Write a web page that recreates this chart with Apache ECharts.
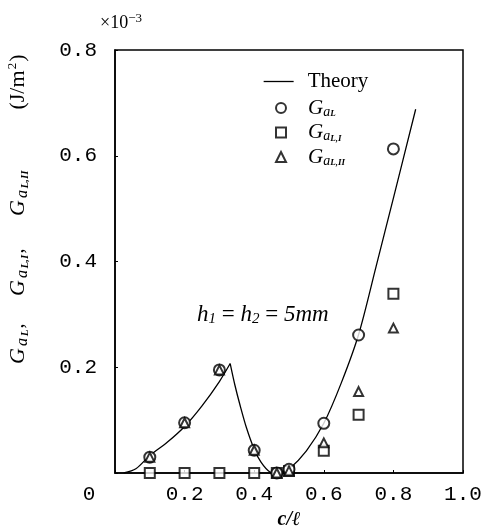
<!DOCTYPE html>
<html><head><meta charset="utf-8">
<script src="https://cdn.jsdelivr.net/npm/echarts@6/dist/echarts.min.js"></script>
<style>html,body{margin:0;padding:0;background:#fff}#c{width:483px;height:526px}</style>
</head><body><div id="c"></div>
<script>
// ---- data ----
const xTicks = [0, 0.2, 0.4, 0.6, 0.8, 1.0];
const yTicks = [0.2, 0.4, 0.6, 0.8];
const expX   = [0.1, 0.2, 0.3, 0.4, 0.465, 0.5, 0.6, 0.7, 0.8];
const gaL    = [0.030, 0.095, 0.195, 0.043, 0, 0.007, 0.094, 0.261, 0.613];
const gaLI   = [0, 0, 0, 0, 0, 0.004, 0.042, 0.110, 0.339];
const gaLII  = [0.030, 0.095, 0.195, 0.043, 0, 0.004, 0.057, 0.154, 0.274];
const theoryRiseX = [0.025, 0.06, 0.1, 0.15, 0.2, 0.25, 0.3, 0.331];
const theoryRiseY = [0, 0.008, 0.033, 0.058, 0.088, 0.127, 0.173, 0.207];
const theoryFallX = [0.331, 0.345, 0.359, 0.378, 0.4, 0.42, 0.445, 0.465, 0.48, 0.5, 0.55, 0.6, 0.65, 0.7, 0.75, 0.8, 0.864];
const theoryFallY = [0.207, 0.165, 0.129, 0.085, 0.045, 0.02, 0.002, 0, 0.001, 0.007, 0.042, 0.094, 0.17, 0.262, 0.39, 0.52, 0.688];

const pairs = (xs, ys) => xs.map((x, i) => [x, ys[i]]);
const SERIF = '"Liberation Serif", "DejaVu Serif", serif';
const MONO = '"Liberation Mono", "DejaVu Sans Mono", monospace';

const gRich = {
  G:  {fontFamily: SERIF, fontStyle: 'italic', fontSize: 21, lineHeight: 22, color: '#000'},
  a:  {fontFamily: SERIF, fontStyle: 'italic', fontSize: 14, lineHeight: 13, padding: [8, 0, 0, 0], color: '#000'},
  L:  {fontFamily: SERIF, fontStyle: 'italic', fontWeight: 'bold', fontSize: 9, lineHeight: 9, padding: [12, 0, 0, 0], color: '#000'},
  t:  {fontFamily: SERIF, fontSize: 21, lineHeight: 22, color: '#000'}
};
const legendNames = {
  'Theory': '{sp|}{t|Theory}',
  'GaL': '{sp|}{G|G}{a|a}{L|L}',
  'GaLI': '{sp|}{G|G}{a|a}{L|L,I}',
  'GaLII': '{sp|}{G|G}{a|a}{L|L,II}'
};

// y-axis title tokens (fixed widths so the centred title lands where the reference has it)
const yNameRich = {
  sp0: {width: 108}, sp1: {width: 26}, sp2: {width: 31}, sp3: {width: 60}, sp4: {width: 4},
  G:  {width: 18, fontFamily: SERIF, fontStyle: 'italic', fontSize: 22, lineHeight: 24, color: '#000'},
  a:  {width: 10, fontFamily: SERIF, fontStyle: 'italic', fontSize: 16, lineHeight: 14, padding: [9, 0, 0, 0], color: '#000'},
  L1: {width: 8,  fontFamily: SERIF, fontStyle: 'italic', fontWeight: 'bold', fontSize: 11, lineHeight: 10, padding: [14, 0, 0, 0], color: '#000'},
  L2: {width: 15, fontFamily: SERIF, fontStyle: 'italic', fontWeight: 'bold', fontSize: 11, lineHeight: 10, padding: [14, 0, 0, 0], color: '#000'},
  L3: {width: 19, fontFamily: SERIF, fontStyle: 'italic', fontWeight: 'bold', fontSize: 11, lineHeight: 10, padding: [14, 0, 0, 0], color: '#000'},
  c:  {width: 6, fontFamily: SERIF, fontSize: 20, lineHeight: 20, color: '#000'},
  u1: {width: 40, fontFamily: SERIF, fontSize: 22, lineHeight: 22, color: '#000'},
  sup:{width: 8, fontFamily: SERIF, fontSize: 13, lineHeight: 13, padding: [0, 0, 10, 0], color: '#000'},
  u2: {width: 8, fontFamily: SERIF, fontSize: 22, lineHeight: 22, color: '#000'}
};

const chart = echarts.init(document.getElementById('c'), null, {renderer: 'canvas'});
chart.setOption({
  animation: false,
  backgroundColor: '#fff',
  grid: {left: 115, right: 20, top: 50, bottom: 53, show: true, borderColor: '#000', borderWidth: 1.5,
         backgroundColor: 'transparent', outerBoundsMode: 'none', containLabel: false},
  xAxis: {
    type: 'value', min: xTicks[0], max: xTicks[xTicks.length - 1], interval: 0.2,
    axisLine: {lineStyle: {color: '#000', width: 1.5}},
    axisTick: {inside: true, length: 3, lineStyle: {color: '#000'}},
    splitLine: {show: false},
    axisLabel: {
      margin: 11, color: '#000', fontFamily: MONO, fontSize: 21,
      formatter: v => v === 0 ? '{o|0}' : v.toFixed(1),
      rich: {o: {fontFamily: MONO, fontSize: 21, color: '#000', padding: [0, 52, 0, 0]}}
    },
    name: 'c/ℓ', nameLocation: 'middle', nameGap: 36,
    nameTextStyle: {fontFamily: SERIF, fontStyle: 'italic', fontWeight: 'bold', fontSize: 20, color: '#000'}
  },
  yAxis: {
    type: 'value', min: 0, max: yTicks[yTicks.length - 1], interval: 0.2,
    axisLine: {lineStyle: {color: '#000', width: 1.5}},
    axisTick: {inside: true, length: 3, lineStyle: {color: '#000'}},
    splitLine: {show: false},
    axisLabel: {margin: 18, color: '#000', fontFamily: MONO, fontSize: 21,
      formatter: v => yTicks.includes(+v.toFixed(1)) ? v.toFixed(1) : ''},
    name: '{sp0|}{G|G}{a|a}{L1|L}{c|,}{sp1|}{G|G}{a|a}{L2|L,I}{c|,}{sp2|}{G|G}{a|a}{L3|L,II}{sp3|}{u1|(J/m}{sup|2}{u2|)}{sp4|}',
    nameLocation: 'middle', nameRotate: 90, nameGap: 85,
    nameTextStyle: {rich: yNameRich}
  },
  legend: [
    {data: ['Theory'], left: 263, top: 71, padding: 0, itemWidth: 30, itemHeight: 14,
     itemStyle: {opacity: 0}, lineStyle: {color: '#000', width: 1.3},
     formatter: n => legendNames[n], textStyle: {rich: Object.assign({sp: {width: 9}}, gRich)}},
    {data: ['GaL', 'GaLI', 'GaLII'], orient: 'vertical', left: 275, top: 97, padding: 0, itemWidth: 10, itemHeight: 10, itemGap: 2.5,
     formatter: n => legendNames[n], textStyle: {rich: Object.assign({sp: {width: 17}}, gRich)}}
  ],
  graphic: [
    {type: 'text', left: 100, top: 12, style: {rich: {
      t: {fontFamily: SERIF, fontSize: 18, fill: '#000'},
      s: {fontFamily: SERIF, fontSize: 13, fill: '#000', padding: [0, 0, 10, 0]}
    }, text: '{t|×10}{s|−3}'}},
    {type: 'text', left: 197, top: 303, style: {rich: {
      i: {fontFamily: SERIF, fontStyle: 'italic', fontSize: 23, lineHeight: 25, fill: '#000'},
      s: {fontFamily: SERIF, fontStyle: 'italic', fontSize: 15, lineHeight: 15, padding: [9, 0, 0, 0], fill: '#000'},
      e: {fontFamily: SERIF, fontSize: 23, lineHeight: 25, fill: '#000'}
    }, text: '{i|h}{s|1}{e| = }{i|h}{s|2}{e| = }{i|5mm}'}}
  ],
  series: [
    {name: 'Theory', type: 'line', data: pairs(theoryRiseX, theoryRiseY), smooth: 0.3, showSymbol: false, symbol: 'none',
     color: '#000', lineStyle: {color: '#000', width: 1.3}, z: 2},
    {name: 'Theory', type: 'line', data: pairs(theoryFallX, theoryFallY), smooth: 0.3, showSymbol: false, symbol: 'none',
     color: '#000', lineStyle: {color: '#000', width: 1.3}, z: 2},
    {name: 'GaL', type: 'scatter', data: pairs(expX, gaL), symbol: 'emptyCircle', symbolSize: 11,
     itemStyle: {color: '#000', borderColor: '#000', borderWidth: 2}, z: 4},
    {name: 'GaLI', type: 'scatter', data: pairs(expX, gaLI), symbol: 'emptyRect', symbolSize: 10,
     itemStyle: {color: '#000', borderColor: '#000', borderWidth: 1.6}, z: 3},
    {name: 'GaLII', type: 'scatter', data: pairs(expX, gaLII), symbol: 'emptyTriangle', symbolSize: 9,
     itemStyle: {color: '#000', borderColor: '#000', borderWidth: 1.6}, z: 5}
  ]
});
</script></body></html>
